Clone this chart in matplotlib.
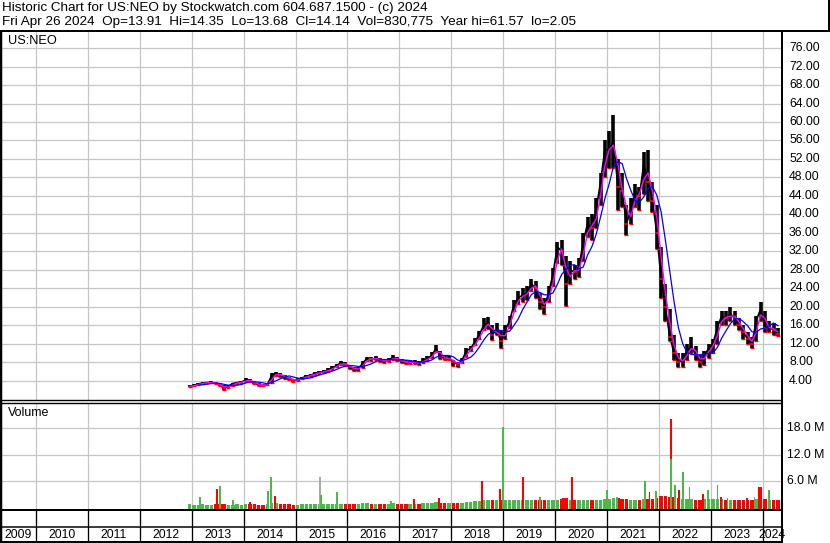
import numpy as np
import pandas as pd
import matplotlib
matplotlib.use("Agg")
import matplotlib.pyplot as plt
from matplotlib.lines import Line2D

# ---------------- data ----------------
start_year, start_month = 2012, 12
close = [2.8,
         3.0, 3.3, 3.5, 3.6, 3.6, 3.4, 3.0, 2.4, 2.8, 3.4, 3.6, 3.7,
         4.2, 4.0, 3.4, 3.1, 3.0, 3.2, 5.2, 5.5, 5.2, 4.8, 4.5, 4.0,
         4.3, 4.6, 5.0, 5.2, 5.6, 5.8, 6.0, 6.3, 6.8, 7.3, 7.9, 7.5,
         7.0, 6.5, 6.5, 7.8, 8.8, 8.7, 8.8, 8.5, 8.2, 8.5, 9.0, 8.6,
         8.2, 8.0, 8.0, 8.0, 7.8, 8.4, 8.8, 9.5, 11.0, 9.2, 8.8, 8.8,
         8.0, 7.5, 8.5, 10.5, 11.0, 12.5, 14.0, 16.0, 16.5, 14.0, 15.0, 12.5,
         15.0, 17.0, 20.5, 22.0, 22.5, 23.0, 25.0, 24.0, 21.0, 20.0, 23.0, 27.0,
         33.0, 32.0, 25.0, 28.0, 27.5, 28.5, 34.0, 38.0, 37.0, 41.0, 47.0, 54.0,
         54.0, 56.0, 46.0, 45.0, 38.0, 41.0, 45.0, 44.0, 51.0, 47.0, 43.0, 36.0,
         26.0, 20.0, 13.5, 10.0, 8.0, 8.5, 10.5, 11.5, 9.5, 8.0, 9.5, 11.0,
         12.0, 15.5, 18.0, 17.5, 18.5, 17.5, 16.0, 14.5, 13.0, 12.0, 17.0, 19.5,
         15.5, 15.5, 15.0, 14.14]
high = [3.1,
        3.2, 3.5, 3.7, 3.8, 3.9, 3.7, 3.5, 3.0, 3.0, 3.6, 3.8, 3.9,
        4.5, 4.4, 4.0, 3.5, 3.3, 3.6, 5.6, 5.9, 5.6, 5.2, 4.8, 4.4,
        4.6, 4.9, 5.3, 5.5, 5.9, 6.1, 6.4, 6.8, 7.2, 7.7, 8.3, 8.0,
        7.5, 7.0, 7.0, 8.3, 9.2, 9.2, 9.3, 9.0, 8.7, 9.0, 9.6, 9.2,
        8.7, 8.5, 8.5, 8.4, 8.2, 8.9, 9.3, 10.2, 11.8, 10.5, 9.3, 9.3,
        8.4, 8.0, 9.0, 11.0, 11.6, 13.3, 14.8, 17.5, 17.8, 16.0, 16.5, 15.0,
        16.0, 18.0, 21.5, 23.5, 24.0, 24.5, 26.0, 25.5, 23.0, 22.0, 24.5, 28.5,
        34.0, 34.5, 31.0, 30.0, 29.0, 30.5, 36.0, 39.5, 40.0, 43.5, 49.0, 56.0,
        58.0, 61.57, 52.0, 49.0, 42.0, 43.5, 46.5, 46.0, 53.5, 54.0, 47.0, 42.0,
        33.0, 25.0, 19.5, 14.0, 10.0, 10.0, 12.0, 13.5, 11.5, 9.5, 10.5, 12.0,
        13.0, 17.0, 19.0, 19.0, 20.0, 19.0, 17.5, 16.0, 14.5, 13.5, 18.0, 21.0,
        19.0, 17.0, 16.5, 15.5]
low = [2.6,
       2.8, 3.0, 3.3, 3.4, 3.4, 3.2, 2.9, 2.05, 2.4, 2.8, 3.3, 3.4,
       3.7, 3.8, 3.2, 2.9, 2.8, 3.0, 3.4, 5.0, 4.9, 4.4, 4.2, 3.7,
       4.0, 4.3, 4.7, 4.9, 5.3, 5.5, 5.7, 5.8, 6.3, 6.9, 7.4, 7.1,
       6.5, 6.1, 6.1, 6.8, 8.2, 8.3, 8.4, 8.1, 7.8, 8.0, 8.4, 8.2,
       7.8, 7.6, 7.6, 7.6, 7.4, 7.9, 8.3, 9.0, 10.3, 8.8, 8.4, 8.4,
       7.2, 7.0, 7.9, 9.2, 10.4, 11.8, 13.0, 15.0, 15.2, 12.8, 13.8, 11.0,
       13.0, 15.5, 19.0, 20.5, 21.0, 21.5, 23.5, 22.0, 19.5, 18.5, 21.0, 24.5,
       29.5, 29.0, 20.2, 25.0, 26.0, 26.5, 30.0, 35.0, 34.5, 37.0, 42.0, 48.0,
       50.0, 50.0, 41.0, 41.5, 35.5, 38.0, 41.5, 41.0, 44.5, 43.0, 40.5, 32.5,
       22.0, 17.0, 12.5, 8.5, 7.0, 7.0, 8.5, 10.0, 8.5, 7.0, 7.5, 9.0,
       10.0, 12.0, 16.0, 16.0, 17.0, 16.0, 15.0, 13.0, 12.0, 11.0, 12.5, 17.0,
       14.5, 14.5, 14.0, 13.68]
volume_m = [0.6,
            0.5, 0.5, 0.6, 0.5, 0.5, 0.6, 0.6, 0.7, 0.5, 0.5, 0.6, 0.5,
            0.6, 0.7, 0.6, 0.5, 0.5, 0.6, 1.0, 0.9, 0.7, 0.6, 0.6, 0.5,
            0.5, 0.6, 0.6, 0.6, 0.7, 0.7, 0.8, 0.8, 0.7, 0.8, 0.8, 0.7,
            0.8, 0.8, 0.8, 0.9, 0.9, 0.8, 0.8, 0.7, 0.8, 0.8, 0.9, 0.8,
            0.8, 0.7, 0.8, 0.8, 0.8, 0.9, 0.9, 0.9, 1.1, 1.0, 0.9, 0.9,
            0.9, 0.9, 1.0, 1.2, 1.2, 1.3, 1.4, 1.6, 1.5, 1.6, 1.5, 1.7,
            1.7, 1.5, 1.7, 1.6, 1.5, 1.5, 1.6, 1.5, 1.6, 1.6, 1.5, 1.6,
            1.7, 1.8, 2.0, 1.7, 1.6, 1.5, 1.6, 1.7, 1.6, 1.7, 1.6, 1.8,
            1.9, 2.1, 2.0, 1.9, 1.8, 1.7, 1.6, 1.7, 1.8, 1.9, 1.8, 2.0,
            2.6, 2.5, 2.4, 2.2, 2.1, 1.9, 1.8, 1.8, 1.7, 1.7, 1.8, 1.9,
            1.8, 1.9, 1.8, 1.7, 1.7, 1.6, 1.6, 1.7, 1.7, 1.6, 1.8, 1.9,
            1.8, 1.7, 1.7, 1.5]
# notable single-day volume spikes: (date as fractional year, volume in M, colour)
spike_dates = [2013.16, 2013.49, 2013.54, 2013.80, 2014.12, 2014.47, 2014.53, 2014.60,
               2015.47, 2015.49, 2015.80, 2016.84, 2017.28, 2017.76, 2018.59, 2018.94,
               2019.00, 2019.38, 2019.71, 2020.15, 2020.33, 2021.00, 2021.19, 2021.73,
               2021.82, 2021.94, 2022.23, 2022.24, 2022.31, 2022.39, 2022.46, 2022.59,
               2022.85, 2022.94, 2023.13, 2023.20, 2023.32, 2023.69, 2023.84, 2023.93,
               2023.95, 2023.97, 2024.12]
spike_vol = [2.4, 4.1, 4.8, 1.6, 1.2, 3.7, 6.8, 2.5,
             6.8, 2.7, 3.4, 1.4, 1.8, 2.1, 6.0, 4.1,
             18.4, 6.8, 2.2, 2.0, 6.8, 3.9, 2.2, 6.0,
             3.4, 3.7, 20.2, 11.0, 5.0, 3.9, 8.1, 4.6,
             2.9, 3.9, 5.0, 2.3, 2.1, 2.0, 2.4, 4.5,
             4.5, 4.5, 3.9]
spike_col = ["g", "r", "g", "g", "r", "g", "g", "r",
             "k", "g", "g", "g", "r", "r", "r", "r",
             "g", "r", "g", "r", "r", "g", "g", "g",
             "r", "g", "r", "g", "g", "r", "g", "g",
             "r", "g", "g", "r", "g", "r", "g", "r",
             "r", "r", "g"]
price_ticks = [4, 8, 12, 16, 20, 24, 28, 32, 36, 40, 44, 48, 52, 56, 60, 64, 68, 72, 76]
vol_ticks = [6, 12, 18]
years = list(range(2009, 2025))
header1 = "Historic Chart for US:NEO by Stockwatch.com 604.687.1500 - (c) 2024"
header2 = ("Fri Apr 26 2024  Op=13.91  Hi=14.35  Lo=13.68  Cl=14.14  "
           "Vol=830,775  Year hi=61.57  lo=2.05")

# ---------------- layout helpers ----------------
W, H = 830, 543
plt.rcParams['font.family'] = ['Liberation Sans', 'DejaVu Sans']
fig = plt.figure(figsize=(W / 100, H / 100), dpi=100)
fig.patch.set_facecolor("white")

def px2yr(px):
    return 2010 + (px - 36) / 51.91

def fx(px):
    return px / W

def fy(py):
    return 1 - py / H

def lw(px):
    return px * 0.72

def fline(x0, y0, x1, y1, width=1.0, color="black"):
    fig.add_artist(Line2D([fx(x0), fx(x1)], [fy(y0), fy(y1)], color=color,
                          linewidth=lw(width), transform=fig.transFigure,
                          solid_capstyle="butt", zorder=10))

XL, XR = 1, 782
xlim = (px2yr(XL), px2yr(XR))
GRID = "#c6c6c6"

n = len(close)
months = pd.period_range(f"{start_year}-{start_month:02d}", periods=n, freq="M")
xm = np.array([p.year + (p.month - 0.5) / 12 for p in months])
close_s = pd.Series(close)
ma_fast = close_s.rolling(2, min_periods=1).mean()
ma_slow = close_s.rolling(5, min_periods=3).mean()
prev = close_s.shift(1).fillna(close_s.iloc[0])
up = (close_s >= prev).values

# ---------------- price panel ----------------
ax = fig.add_axes([fx(XL), fy(400), fx(XR) - fx(XL), fy(31) - fy(400)])
ax.set_xlim(*xlim)
ax.set_ylim((399.2 - 400) / 4.62, (399.2 - 31) / 4.62)
for t in price_ticks:
    ax.axhline(t, color=GRID, lw=0.9, zorder=0)
for y in years[1:]:
    ax.axvline(y, color=GRID, lw=0.9, zorder=0)
ax.vlines(xm, low, high, color="black", lw=2.6, zorder=2)
ax.plot(xm, close, color="black", lw=1.2, zorder=2)
down = ~up
ax.scatter(xm[down], np.array(close)[down], marker="_", s=8, color="red",
           linewidths=1.2, zorder=3)
ax.scatter(xm, low, marker="_", s=5, color="red", linewidths=1.0, zorder=3)
ax.plot(xm, ma_fast, color="#ff00ff", lw=1.0, zorder=4)
ax.plot(xm, ma_slow, color="#0000ff", lw=0.9, zorder=5)
for s in ax.spines.values():
    s.set_visible(False)
ax.set_xticks([]); ax.set_yticks([])

# ---------------- volume panel ----------------
av = fig.add_axes([fx(XL), fy(509), fx(XR) - fx(XL), fy(403) - fy(509)])
av.set_xlim(*xlim)
vb = (507 - 509) / 4.37
av.set_ylim(vb, (507 - 403) / 4.37)
for t in vol_ticks:
    av.axhline(t, color=GRID, lw=0.9, zorder=0)
for y in years[1:]:
    av.axvline(y, color=GRID, lw=0.9, zorder=0)
GREEN, RED, GRAY = "#4cb84c", "#ff0000", "#a8a8a8"
vcols = [GREEN if u else RED for u in up]
av.bar(xm, np.array(volume_m) - vb, bottom=vb, width=0.065, color=vcols,
       linewidth=0, zorder=2)
cmap = {"g": GREEN, "r": RED, "k": GRAY}
av.bar(spike_dates, np.array(spike_vol) - vb, bottom=vb, width=0.034,
       color=[cmap[c] for c in spike_col], linewidth=0, zorder=3)
for s in av.spines.values():
    s.set_visible(False)
av.set_xticks([]); av.set_yticks([])

# ---------------- frame lines ----------------
fline(0, 31, W, 31, 2)
fline(1, 31, 1, 542, 2.5)
fline(782, 31, 782, H, 2)
fline(828.5, 0, 828.5, 31, 2)
fline(0, 400, 782, 400, 1.4)
fline(0, 403, 782, 403, 1.4)
fline(0, 509.5, 782, 509.5, 2)
fline(0, 526.5, 782, 526.5, 1.5)
fline(0, 541.5, 782, 541.5, 2)
yr_px = [36 + (y - 2010) * 51.91 for y in years[1:]]
for p in yr_px:
    fline(p, 509.5, p, 541.5, 1.3)

# ---------------- texts ----------------
fig.text(fx(2), fy(8.5), header1, fontsize=9.7, va="center", ha="left")
fig.text(fx(2), fy(22.5), header2, fontsize=9.7, va="center", ha="left")
fig.text(fx(8), fy(41.5), "US:NEO", fontsize=9.2, va="center", ha="left")
fig.text(fx(8), fy(413.5), "Volume", fontsize=9.0, va="center", ha="left")
for t in price_ticks:
    py = 399.2 - 4.62 * t
    fig.text(fx(789), fy(py), f"{t:.2f}", fontsize=8.8, va="center", ha="left")
for t in vol_ticks:
    py = 507 - 4.37 * t
    fig.text(fx(787), fy(py), f"{t:.1f} M", fontsize=8.8, va="center", ha="left")
edges = [1] + yr_px + [782]
for i, y in enumerate(years):
    cx = (edges[i] + edges[i + 1]) / 2
    fig.text(fx(cx), fy(534.5), str(y), fontsize=8.8, va="center", ha="center")

fig.savefig("out.png", dpi=100, facecolor="white")
